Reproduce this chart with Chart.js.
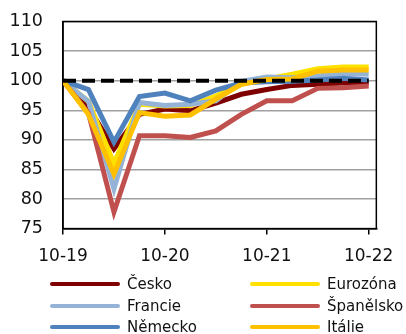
<!DOCTYPE html>
<html lang="cs">
<head>
<meta charset="UTF-8">
<script src="https://cdn.jsdelivr.net/npm/chart.js"></script>
<style>
  body { margin: 0; background: #fff; }
  #wrap { position: relative; width: 406px; height: 334px; overflow: hidden; }
  #graf { position: absolute; left: 0; top: -9px; }
  .leg { position: absolute; font-family: "DejaVu Sans", sans-serif; font-size: 15px; color: #111; line-height: 18px; }
  .leg span.sw { position: absolute; top: 7px; height: 4px; border-radius: 2px; }
</style>
</head>
<body>
<div id="wrap">
  <canvas id="graf" width="406" height="290"></canvas>
  <div id="legenda"></div>
</div>
<script>
  // ctvrtletni data, 10-19 .. 10-22
  var kvartaly = ['10-19','01-20','04-20','07-20','10-20','01-21','04-21','07-21','10-21','01-22','04-22','07-22','10-22'];
  var popisky = ['10-19', '10-20', '10-21', '10-22'];

  var cesko     = [100, 95.5, 88.5, 94.3, 95.2, 94.9, 96.2, 97.7, 98.5, 99.2, 99.4, 99.6, 99.6];
  var eurozona  = [100, 96.5, 86.0, 96.0, 95.7, 95.8, 97.4, 99.4, 100.3, 101.1, 102.0, 102.3, 102.3];
  var francie   = [100, 96.5, 81.7, 96.3, 95.8, 96.0, 96.6, 99.9, 100.6, 100.5, 100.8, 101.2, 101.1];
  var spanelsko = [100, 94.5, 77.8, 90.7, 90.7, 90.4, 91.5, 94.3, 96.6, 96.6, 98.7, 98.8, 99.1];
  var nemecko   = [100, 98.5, 89.6, 97.3, 97.9, 96.6, 98.4, 99.6, 99.8, 99.9, 100.1, 100.4, 100.1];
  var italie    = [100, 94.3, 84.2, 94.6, 94.0, 94.2, 96.9, 99.4, 100.2, 100.3, 101.6, 101.8, 101.8];
  var zaklad    = [100, 100, 100, 100, 100, 100, 100, 100, 100, 100, 100, 100, 100];

  function body(hodnoty) {
    return hodnoty.map(function (v, i) { return { x: i, y: v }; });
  }

  var serie = [
    { label: 'Česko',     data: cesko,     barva: '#7f0000', poradi: 6 },
    { label: 'Eurozóna',  data: eurozona,  barva: '#ffe100', poradi: 5 },
    { label: 'Francie',   data: francie,   barva: '#95b3d7', poradi: 4 },
    { label: 'Španělsko', data: spanelsko, barva: '#c0504d', poradi: 3 },
    { label: 'Německo',   data: nemecko,   barva: '#4f81bd', poradi: 2 },
    { label: 'Itálie',    data: italie,    barva: '#ffc000', poradi: 1 }
  ];

  var datasets = serie.map(function (s) {
    return {
      label: s.label, data: body(s.data), borderColor: s.barva, borderWidth: 5,
      pointRadius: 0, tension: 0, order: s.poradi, borderJoinStyle: 'miter'
    };
  });
  datasets.push({
    label: '100', data: body(zaklad), borderColor: '#000', borderWidth: 4,
    borderDash: [13, 6], pointRadius: 0, order: 0
  });

  // ramecek kolem plochy grafu
  var ramecek = {
    id: 'ramecek',
    beforeDatasetsDraw: function (chart) {
      var a = chart.chartArea, c = chart.ctx;
      c.save();
      c.strokeStyle = '#000';
      c.lineWidth = 1.5;
      c.strokeRect(a.left, a.top, a.right - a.left, a.bottom - a.top);
      c.restore();
    }
  };

  Chart.defaults.font.family = '"DejaVu Sans", sans-serif';
  Chart.defaults.color = '#111';

  var graf = new Chart(document.getElementById('graf'), {
    type: 'line',
    data: { datasets: datasets },
    options: {
      responsive: false,
      animation: false,
      layout: { padding: { top: 13, right: 25, left: 0, bottom: 2 } },
      plugins: { legend: { display: false }, tooltip: { enabled: false } },
      scales: {
        x: {
          type: 'linear', min: 0, max: 12.3,
          afterBuildTicks: function (s) { s.ticks = [0, 4, 8, 12].map(function (v) { return { value: v }; }); },
          ticks: {
            font: { size: 17 }, padding: 12, maxRotation: 0,
            callback: function (v) { return popisky[v / 4]; }
          },
          grid: { drawOnChartArea: false, drawTicks: true, tickLength: 6, color: '#000', lineWidth: 1.5 },
          border: { color: '#000', width: 1.5 }
        },
        y: {
          min: 75, max: 110,
          ticks: { stepSize: 5, font: { size: 17.5 }, padding: 20 },
          afterFit: function (s) { s.width = 63; },
          grid: { color: '#a0a0a0', lineWidth: 1.5, drawTicks: false },
          border: { color: '#000', width: 1.5 }
        }
      }
    },
    plugins: [ramecek]
  });

  // legenda ve dvou sloupcich
  var legenda = document.getElementById('legenda');
  serie.forEach(function (s, i) {
    var sloupec = i % 2, radek = Math.floor(i / 2);
    var d = document.createElement('div');
    d.className = 'leg';
    d.style.left = (sloupec ? 250 : 50) + 'px';
    d.style.top = (275 + radek * 21.5) + 'px';
    d.style.paddingLeft = '77px';
    d.innerHTML = '<span class="sw" style="left:0;width:70px;background:' + s.barva + '"></span>' + s.label;
    legenda.appendChild(d);
  });
</script>
</body>
</html>
